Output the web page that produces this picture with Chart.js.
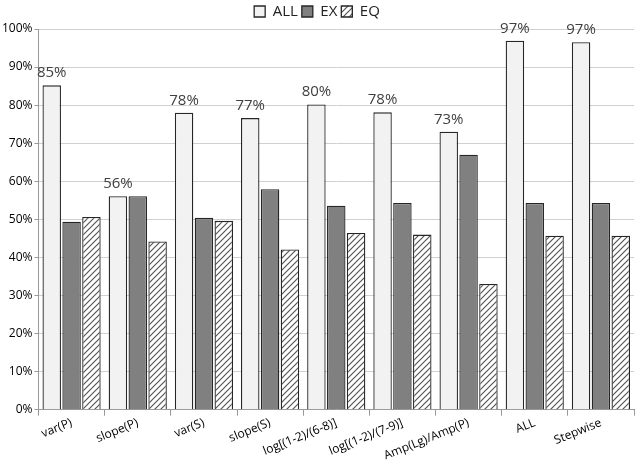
<!DOCTYPE html>
<html>
<head>
<meta charset="utf-8">
<script src="https://cdn.jsdelivr.net/npm/chart.js@4/dist/chart.umd.min.js"></script>
<style>
  html, body { margin: 0; padding: 0; background: #fff; }
  #wrap { width: 637px; height: 463px; }
</style>
</head>
<body>
<div id="wrap"><canvas id="chartCanvas"></canvas></div>
<script>
const categories = ['var(P)', 'slope(P)', 'var(S)', 'slope(S)', 'log[(1-2)/(6-8)]', 'log[(1-2)/(7-9)]', 'Amp(Lg)/Amp(P)', 'ALL', 'Stepwise'];
const allValues = [85.2, 56.1, 78.0, 76.6, 80.2, 78.1, 73.0, 96.9, 96.5];
const exValues = [49.4, 56.1, 50.4, 57.9, 53.6, 54.3, 67.0, 54.3, 54.3];
const eqValues = [50.6, 44.2, 49.6, 42.1, 46.4, 46.0, 33.0, 45.7, 45.7];
const yTicks = [0, 10, 20, 30, 40, 50, 60, 70, 80, 90, 100];

// diagonal hatch for EQ
function makeHatch() {
  const c = document.createElement('canvas');
  c.width = 6; c.height = 6;
  const g = c.getContext('2d');
  g.fillStyle = '#ffffff';
  g.fillRect(0, 0, 6, 6);
  g.strokeStyle = '#555555';
  g.lineWidth = 1.2;
  g.beginPath();
  g.moveTo(0, 6); g.lineTo(6, 0);
  g.moveTo(-3, 3); g.lineTo(3, -3);
  g.moveTo(3, 9); g.lineTo(9, 3);
  g.stroke();
  return g.createPattern(c, 'repeat');
}
const hatch = makeHatch();

// percent labels above the ALL bars
const topLabels = {
  id: 'topLabels',
  afterDatasetsDraw(chart) {
    const ctx = chart.ctx;
    const meta = chart.getDatasetMeta(0);
    ctx.save();
    ctx.font = '15px "Open Sans", sans-serif';
    ctx.fillStyle = '#404040';
    ctx.textAlign = 'center';
    ctx.textBaseline = 'bottom';
    meta.data.forEach((bar, i) => {
      ctx.fillText(Math.round(allValues[i]) + '%', bar.x, bar.y - 5);
    });
    ctx.restore();
  }
};

new Chart(document.getElementById('chartCanvas'), {
  type: 'bar',
  data: {
    labels: categories,
    datasets: [
      {
        label: 'ALL',
        data: allValues,
        backgroundColor: '#f2f2f2',
        borderColor: '#262626',
        borderWidth: 1.3,
        categoryPercentage: 0.9,
        barPercentage: 0.93
      },
      {
        label: 'EX',
        data: exValues,
        backgroundColor: '#808080',
        borderColor: '#262626',
        borderWidth: 1.3,
        categoryPercentage: 0.9,
        barPercentage: 0.93
      },
      {
        label: 'EQ',
        data: eqValues,
        backgroundColor: hatch,
        borderColor: '#262626',
        borderWidth: 1.3,
        categoryPercentage: 0.9,
        barPercentage: 0.93
      }
    ]
  },
  options: {
    responsive: true,
    maintainAspectRatio: false,
    animation: false,
    layout: { padding: { left: 0, right: 3, top: 0, bottom: 0 } },
    plugins: {
      legend: {
        display: true,
        position: 'top',
        labels: {
          boxWidth: 11,
          boxHeight: 11,
          padding: 4,
          color: '#222',
          font: { size: 15, family: '"Open Sans", sans-serif' }
        }
      },
      tooltip: { enabled: false }
    },
    scales: {
      x: {
        grid: {
          offset: true,
          drawOnChartArea: false,
          drawTicks: true,
          tickLength: 6,
          color: '#999'
        },
        border: { color: '#999' },
        ticks: {
          color: '#000',
          maxRotation: 22,
          minRotation: 22,
          padding: 0,
          font: { size: 12, family: '"Open Sans", sans-serif' }
        }
      },
      y: {
        min: 0,
        max: 100,
        afterBuildTicks(axis) {
          axis.ticks = yTicks.map(v => ({ value: v }));
        },
        grid: {
          color: '#d0d0d0',
          tickLength: 4,
          tickColor: '#999'
        },
        border: { color: '#999' },
        ticks: {
          color: '#000',
          padding: 2,
          font: { size: 12, family: '"Open Sans", sans-serif' },
          callback: v => v + '%'
        }
      }
    }
  },
  plugins: [topLabels]
});
</script>
</body>
</html>
